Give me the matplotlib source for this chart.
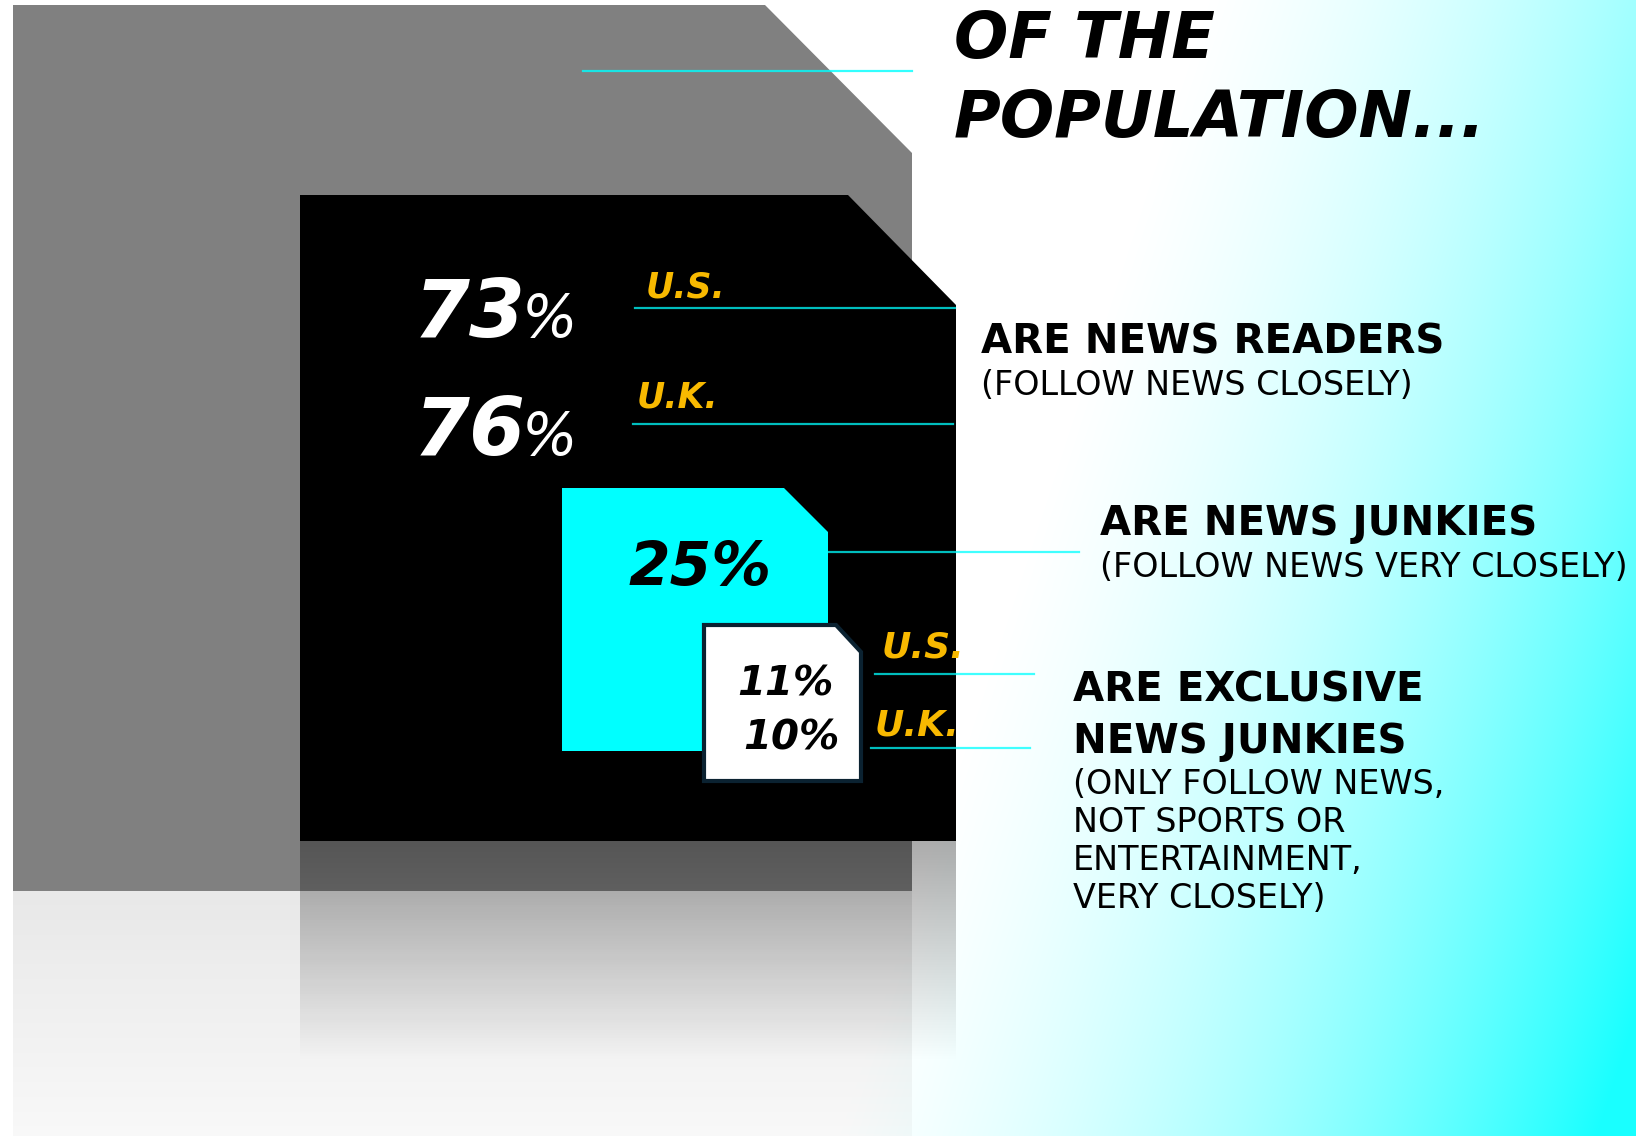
import numpy as np
import matplotlib
matplotlib.use("Agg")
import matplotlib.pyplot as plt
from matplotlib.patches import Polygon

# values read from the infographic
countries = ["U.S.", "U.K."]
news_readers = [73, 76]
news_junkies = 25
exclusive_junkies = [11, 10]
title_lines = ["OF THE", "POPULATION..."]
headings = [["ARE NEWS READERS"], ["ARE NEWS JUNKIES"], ["ARE EXCLUSIVE", "NEWS JUNKIES"]]
notes = [["(FOLLOW NEWS CLOSELY)"], ["(FOLLOW NEWS VERY CLOSELY)"],
         ["(ONLY FOLLOW NEWS,", "NOT SPORTS OR", "ENTERTAINMENT,", "VERY CLOSELY)"]]

plt.rcParams['font.family'] = ['DejaVu Sans']

W, H = 1636, 1136
YELLOW = '#f8b900'
CYAN = '#00ffff'

fig = plt.figure(figsize=(W / 100, H / 100), dpi=100)
ax = fig.add_axes([0, 0, 1, 1])

# background: white fading to cyan towards the lower right
yy, xx = np.mgrid[0:H, 0:W] + 0.5
s = np.clip(0.95 * xx + 0.31 * yy - 1150, 0, None)
t = np.clip(0.00046 * s + 1.1e-6 * s ** 2, 0, 0.9)
bg = np.dstack([1 - t, np.ones_like(t), np.ones_like(t)])
ax.imshow(bg, extent=(0, W, H, 0), aspect='auto', zorder=0, interpolation='bilinear')


def reflection(x0, x1, y0, y1, grey, a0, a1, z):
    n = int(y1 - y0)
    arr = np.zeros((n, 2, 4))
    arr[..., :3] = grey
    arr[..., 3] = np.linspace(a0, a1, n)[:, None]
    ax.imshow(arr, extent=(x0, x1, y1, y0), aspect='auto', zorder=z, interpolation='bilinear')


def chamfer_box(x0, y0, x1, y1, cx, cy, **kw):
    pts = [(x0, y0), (x1 - cx, y0), (x1, y0 + cy), (x1, y1), (x0, y1)]
    ax.add_patch(Polygon(pts, closed=True, **kw))


# grey box = whole population
reflection(13, 912, 891, 1136, 0.5, 0.18, 0.05, 1)
chamfer_box(13, 5, 912, 891, 147, 148, facecolor='#808080', edgecolor='none', zorder=2)
ax.plot([583, 912], [71, 71], color=CYAN, alpha=0.8, lw=1.6, zorder=3)

# black box = news readers
reflection(300, 956, 841, 1062, 0.0, 0.33, 0.0, 3)
chamfer_box(300, 195, 956, 841, 108, 110, facecolor='black', edgecolor='none', zorder=4)

# cyan box = news junkies
chamfer_box(562, 488, 828, 751, 44, 44, facecolor=CYAN, edgecolor='none', zorder=5)

# white box = exclusive news junkies
chamfer_box(704, 625, 861, 781, 25, 27, facecolor='white', edgecolor='#0b2231', lw=3, zorder=6)

# connector lines
for (xa, xb, y) in [(635, 955, 308), (633, 953, 424), (829, 1079, 552),
                    (875, 1034, 674), (871, 1030, 748)]:
    ax.plot([xa, xb], [y, y], color=CYAN, alpha=0.75, lw=1.6, zorder=7)

big = dict(fontweight='bold', style='italic', va='baseline', zorder=8)

# readers percentages
for v, c, yb, xc, yc in zip(news_readers, countries, [337, 455], [646, 637], [298, 408]):
    tx = ax.text(414, yb, str(v), color='white', fontsize=58, **big)
    ax.annotate('%', xy=(1, yb), xycoords=(tx, 'data'), xytext=(-3, 0),
                textcoords='offset points', color='white', fontsize=42,
                fontweight='medium', style='italic', va='baseline', zorder=8)
    ax.text(xc, yc, c, color=YELLOW, fontsize=25, **big)

# junkies
ax.text(629, 585, f'{news_junkies}%', color='black', fontsize=43, **big)

# exclusive junkies
for v, c, yb, xr, xc, yc in zip(exclusive_junkies, countries, [695, 749], [834, 840],
                                [882, 875], [658, 735]):
    ax.text(xr, yb, f'{v}%', color='black', fontsize=29, ha='right', **big)
    ax.text(xc, yc, c, color=YELLOW, fontsize=26, **big)

# title
for line, yb in zip(title_lines, [58, 137]):
    ax.text(954, yb, line, color='black', fontsize=46, fontweight='heavy',
            style='italic', va='baseline', zorder=8)

# right hand descriptions, one text per line
head_pos = [(981, 353), (1100, 535), (1073, 701)]
note_pos = [(981, 395), (1100, 577), (1073, 794)]
for lines, (x, y) in zip(headings, head_pos):
    for k, line in enumerate(lines):
        ax.text(x, y + 52 * k, line, color='black', fontsize=29, fontweight='bold',
                va='baseline', zorder=8)
for lines, (x, y) in zip(notes, note_pos):
    for k, line in enumerate(lines):
        ax.text(x, y + 38 * k, line, color='black', fontsize=24, va='baseline', zorder=8)

ax.set_xlim(0, W)
ax.set_ylim(H, 0)
ax.axis('off')

fig.savefig('out.png', dpi=100)
